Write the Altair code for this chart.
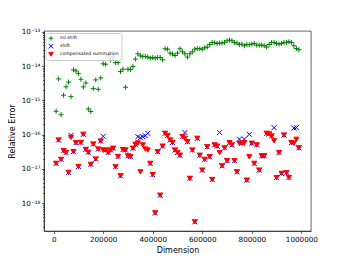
import altair as alt
import pandas as pd

dims = list(range(10000, 1000000, 10000))

no_shift = [
    4.8e-16, 4.2e-15, 3.8e-16, 1.41e-15, 2.47e-15, 3.4e-15, 1.28e-15, 7.7e-15, 7.2e-15, 6.0e-15,
    4.1e-15, 2.47e-15, 3.2e-15, 5.6e-16, 4.7e-16, 2.2e-15, 3.95e-15, 2.1e-15, 4.5e-15, 1.16e-14,
    1.13e-14, 1.99e-14, 1.49e-14, 1.82e-14, 1.26e-14, 1.26e-14, 6.9e-15, 8.1e-15, 2.4e-15, 8.1e-15,
    7.9e-15, 9.7e-15, 1.59e-14, 2.27e-14, 1.99e-14, 1.90e-14, 1.90e-14, 1.82e-14, 1.70e-14, 1.77e-14,
    1.70e-14, 1.77e-14, 1.77e-14, 1.52e-14, 3.18e-14, 3.1e-14, 2.38e-14, 2.23e-14, 2.03e-14, 2.38e-14,
    3.18e-14, 2.60e-14, 2.27e-14, 1.82e-14, 2.27e-14, 2.60e-14, 3.1e-14, 3.25e-14, 3.18e-14, 3.1e-14,
    3.40e-14, 3.57e-14, 4.25e-14, 4.87e-14, 4.77e-14, 4.55e-14, 4.67e-14, 4.67e-14, 4.87e-14, 5.45e-14,
    5.7e-14, 5.45e-14, 4.87e-14, 4.67e-14, 4.25e-14, 4.36e-14, 3.90e-14, 4.25e-14, 4.17e-14, 4.36e-14,
    4.55e-14, 4.08e-14, 4.08e-14, 4.08e-14, 3.90e-14, 3.57e-14, 4.25e-14, 4.87e-14, 4.87e-14, 4.55e-14,
    4.36e-14, 4.55e-14, 4.87e-14, 4.87e-14, 5.10e-14, 4.87e-14, 3.90e-14, 3.25e-14, 2.98e-14,
]

shift = [
    1.45e-17, 6.95e-17, 1.9e-17, 3.4e-17, 3.0e-17, 7.9e-18, 9.5e-17, 3.2e-17, 5.8e-17, 1.17e-17,
    5.9e-17, 1.02e-16, 3.7e-17, 3.05e-17, 1.36e-17, 5.3e-17, 1.94e-17, 3.8e-17, 6.5e-17, 8.9e-17,
    3.55e-17, 3.0e-17, 3.55e-17, 4.0e-17, 1.15e-17, 2.3e-17, 6.3e-18, 3.66e-17, 3.55e-17, 2.4e-17,
    2.26e-17, 4.0e-17, 5.2e-17, 8.7e-17, 8.1e-17, 8.7e-17, 9.3e-17, 1.09e-16, 1.45e-17, 6.8e-18,
    5.2e-19, 3.16e-17, 1.71e-18, 4.6e-17, 1.09e-16, 9.4e-17, 6.95e-17, 5.9e-17, 3.55e-17, 3.0e-17,
    2.5e-17, 8.7e-17, 1.15e-16, 6.2e-17, 5.3e-18, 3.55e-17, 2.86e-19, 7.8e-17, 2.5e-17, 9.2e-18,
    1.9e-17, 4.4e-17, 2.26e-17, 4.9e-18, 5.0e-17, 4.6e-17, 1.15e-16, 1.23e-17, 4.1e-17, 1.73e-17,
    5.8e-17, 5.0e-17, 1.73e-17, 8.2e-18, 7.4e-17, 5.6e-17, 7.4e-17, 4.7e-18, 1.02e-16, 5.6e-17,
    1.45e-17, 5.0e-17, 9.2e-18, 2.4e-17, 2.4e-17, 1.09e-16, 1.04e-16, 9.1e-17, 1.6e-16, 5.6e-18,
    3.0e-17, 7.4e-18, 9.7e-17, 7.7e-18, 5.6e-18, 5.8e-17, 1.55e-16, 1.6e-16, 4.1e-17,
]

compensated = [
    1.45e-17, 6.95e-17, 1.9e-17, 3.4e-17, 3.0e-17, 7.9e-18, 8.3e-17, 3.2e-17, 5.8e-17, 1.17e-17,
    5.9e-17, 1.02e-16, 3.7e-17, 3.05e-17, 1.36e-17, 5.3e-17, 1.94e-17, 3.8e-17, 6.5e-17, 3.55e-17,
    3.55e-17, 3.0e-17, 3.55e-17, 4.0e-17, 1.15e-17, 2.3e-17, 6.3e-18, 3.66e-17, 3.55e-17, 2.4e-17,
    2.26e-17, 4.0e-17, 5.2e-17, 5.7e-17, 8.2e-18, 5.0e-17, 3.8e-17, 3.55e-17, 1.45e-17, 6.8e-18,
    5.2e-19, 3.16e-17, 1.71e-18, 4.6e-17, 1.09e-16, 9.4e-17, 6.95e-17, 5.9e-17, 3.55e-17, 3.0e-17,
    2.5e-17, 8.7e-17, 7.8e-17, 6.2e-17, 5.3e-18, 3.55e-17, 2.86e-19, 7.8e-17, 2.5e-17, 9.2e-18,
    1.9e-17, 4.4e-17, 2.26e-17, 4.9e-18, 5.0e-17, 4.6e-17, 3.0e-17, 1.23e-17, 4.1e-17, 1.73e-17,
    5.8e-17, 5.0e-17, 1.73e-17, 8.2e-18, 5.6e-17, 5.6e-17, 5.8e-17, 4.7e-18, 2.26e-17, 5.6e-17,
    1.45e-17, 5.0e-17, 9.2e-18, 2.4e-17, 2.4e-17, 1.09e-16, 1.04e-16, 9.1e-17, 6.6e-17, 5.6e-18,
    3.0e-17, 7.4e-18, 9.7e-17, 7.7e-18, 5.6e-18, 5.8e-17, 5.6e-17, 7.3e-17, 4.1e-17,
]

series_names = ["no shift", "shift", "compensated summation"]
series_colors = ["#008000", "#0000ff", "#ff0000"]
x_ticks = [0, 200000, 400000, 600000, 800000, 1000000]
y_major = [1e-18, 1e-17, 1e-16, 1e-15, 1e-14, 1e-13]

rows = []
for name, vals in zip(series_names, [no_shift, shift, compensated]):
    for d, v in zip(dims, vals):
        rows.append({"dim": d, "err": v, "series": name})
df = pd.DataFrame(rows)

PLUS = "M-1,0L1,0M0,-1L0,1"
XSHAPE = "M-1,-1L1,1M-1,1L1,-1"

y_lo, y_hi = 1.55e-19, 1.05e-13
y_minor = [m * 10.0 ** k for k in range(-19, -13) for m in range(2, 10)]
y_vals = sorted(y_major + [v for v in y_minor if y_lo <= v <= y_hi])

is_major = "abs(log(datum.value)/LN10 - round(log(datum.value)/LN10)) < 0.01"
label_expr = (
    f"!({is_major}) ? '' : "
    "datum.value > 3e-14 ? '10⁻¹³' : datum.value > 3e-15 ? '10⁻¹⁴' : "
    "datum.value > 3e-16 ? '10⁻¹⁵' : datum.value > 3e-17 ? '10⁻¹⁶' : "
    "datum.value > 3e-18 ? '10⁻¹⁷' : '10⁻¹⁸'"
)

FONT = "DejaVu Sans"

legend = alt.Legend(
    title=None,
    orient="none",
    legendX=1.5,
    legendY=2,
    fillColor="rgba(255,255,255,0.8)",
    strokeColor="#cccccc",
    cornerRadius=2,
    padding=2.5,
    labelFont=FONT,
    labelFontSize=4.6,
    labelOffset=6,
    symbolSize=20,
    symbolStrokeWidth=1,
    rowPadding=1,
    clipHeight=5.5,
)

chart = (
    alt.Chart(df)
    .mark_point(filled=False, size=25, strokeWidth=1, opacity=1)
    .encode(
        x=alt.X(
            "dim:Q",
            scale=alt.Scale(domain=[-39000, 1039000], nice=False, zero=False),
            axis=alt.Axis(
                values=x_ticks,
                format="d",
                title="Dimension",
                grid=False,
                tickSize=2.5,
                labelPadding=1.5,
                labelFontSize=7.2,
                labelFont=FONT,
                titleFont=FONT,
                titleFontSize=8,
                titleFontWeight="normal",
                titleX=133.5,
                titleY=19,
                titleBaseline="middle",
                labelColor="black",
                titleColor="black",
                domainColor="black",
                tickColor="black",
                domainWidth=0.6,
                tickWidth=0.6,
            ),
        ),
        y=alt.Y(
            "err:Q",
            scale=alt.Scale(type="log", domain=[y_lo, y_hi], nice=False),
            axis=alt.Axis(
                values=y_vals,
                labelExpr=label_expr,
                labelOverlap=False,
                title="Relative Error",
                grid=False,
                tickSize={"condition": {"test": is_major, "value": 2.5}, "value": 1.4},
                labelPadding=1.5,
                labelFontSize=7.2,
                labelFont=FONT,
                titleFont=FONT,
                titleFontSize=8,
                titleFontWeight="normal",
                titleX=-32,
                titleY=100,
                titleAngle=-90,
                titleBaseline="middle",
                titleAlign="center",
                labelColor="black",
                titleColor="black",
                domainColor="black",
                tickColor="black",
                domainWidth=0.6,
                tickWidth=0.6,
            ),
        ),
        color=alt.Color(
            "series:N",
            scale=alt.Scale(domain=series_names, range=series_colors),
            legend=legend,
        ),
        shape=alt.Shape(
            "series:N",
            scale=alt.Scale(domain=series_names, range=[PLUS, XSHAPE, "triangle-down"]),
            legend=legend,
        ),
        fill=alt.Fill(
            "series:N",
            scale=alt.Scale(domain=series_names, range=["transparent", "transparent", "#ff0000"]),
            legend=legend,
        ),
    )
    .properties(
        width=267,
        height=200,
        autosize=alt.AutoSizeParams(type="none"),
        padding={"left": 36, "top": 23, "right": 20, "bottom": 25},
    )
    .configure_view(stroke="black", strokeWidth=0.6)
)

chart.save("out.html", embed_options={"renderer": "svg", "actions": False})
